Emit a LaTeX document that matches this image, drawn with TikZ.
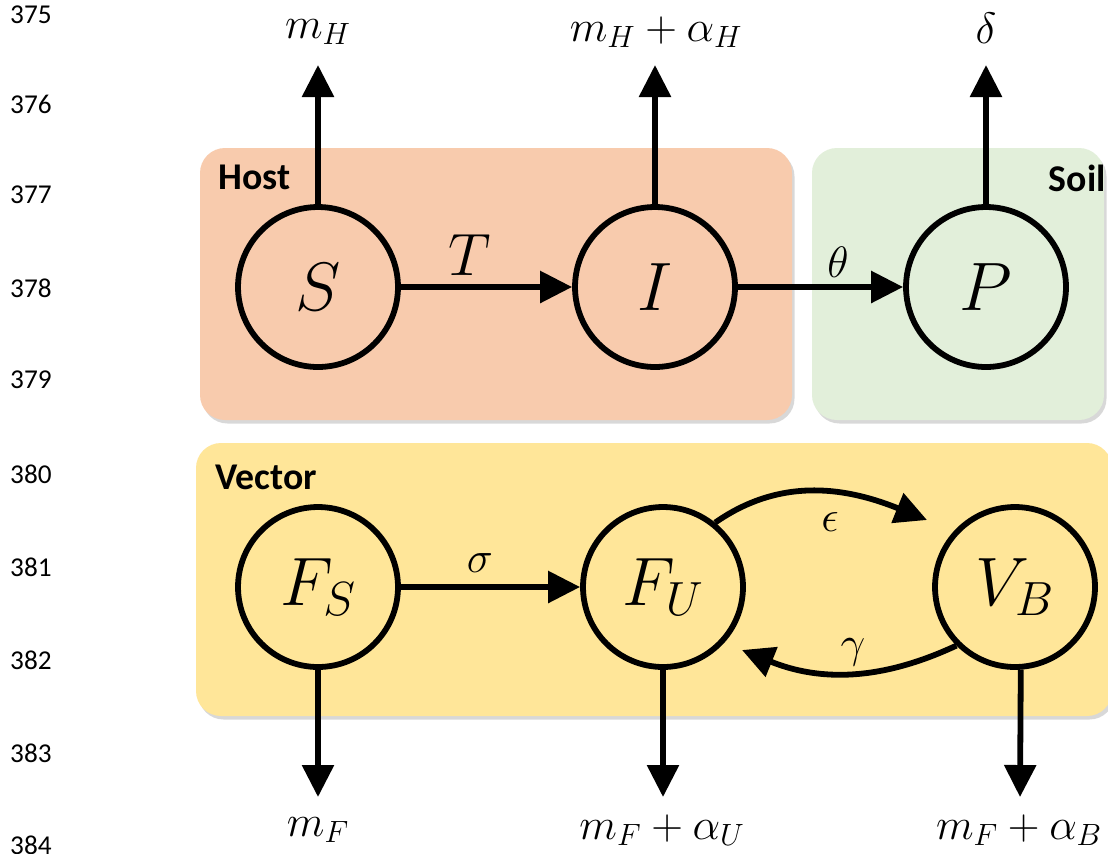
\RequirePackage{fix-cm}
\documentclass[tikz,border=0pt]{standalone}
\usepackage{fontspec}
\newfontfamily\carlito{Carlito}
\usetikzlibrary{arrows.meta,shadows}
\definecolor{hostc}{HTML}{F8CBAD}
\definecolor{soilc}{HTML}{E2EFDA}
\definecolor{vecc}{HTML}{FFE699}
\begin{document}
\begin{tikzpicture}[x=0.02cm,y=-0.02cm,
  comp/.style={circle,draw,line width=3.3pt,minimum size=3.2cm,inner sep=0pt,font=\fontsize{39}{40}\selectfont},
  arr/.style={line width=3.3pt,-{Triangle[length=0.64cm,width=0.62cm]}},
  lbl/.style={font=\fontsize{25}{27}\selectfont,inner sep=0pt},
  grp/.style={font=\carlito\bfseries\fontsize{21.5}{22}\selectfont,inner sep=0pt},
  lnum/.style={font=\carlito\fontsize{15.5}{16}\selectfont,anchor=east,inner sep=0pt},
  box/.style={rounded corners=0.5cm,drop shadow={opacity=0.3,shadow xshift=0.05cm,shadow yshift=-0.07cm}}
]
\useasboundingbox (0,0) rectangle (1108,853);
\fill[white] (0,0) rectangle (1108,853);
% line numbers
\foreach \n/\yy in {375/15,376/104,377/195,378/288,379/380,380/474,381/567,382/660,383/753,384/845}
  \node[lnum] (ln\n) at (52,\yy) {\n};
% group boxes
\path[box,fill=hostc] (200,148) rectangle (792,420);
\path[box,fill=soilc] (812,148) rectangle (1104,420);
\path[box,fill=vecc] (196,443) rectangle (1112,716);
\node[grp,anchor=west] (hostlbl) at (218,177) {Host};
\node[grp,anchor=east] (soillbl) at (1106,178) {Soil};
\node[grp,anchor=west] (veclbl) at (215,477) {Vector};
% compartments
\node[comp] (S) at (318,287) {$S$};
\node[comp] (I) at (655,287) {$I$};
\node[comp] (P) at (986,287) {$P$};
\node[comp] (FS) at (318,587) {$F_S$};
\node[comp] (FU) at (663,587) {$F_U$};
\node[comp] (VB) at (1015,587) {$V_B$};
% transitions
\draw[arr] (S) -- (I);
\node[lbl,font=\fontsize{34}{36}\selectfont] (lT) at (470,255) {$T$};
\draw[arr] (I) -- (P);
\node[lbl] (lth) at (838,262) {$\theta$};
\draw[arr] (FS) -- (FU);
\node[lbl] (lsig) at (480,563) {$\sigma$};
\coordinate (etip) at (927,520);
\coordinate (gtip) at (742,650);
\draw[arr] (FU.51) to[out=35,in=158] (etip);
\node[lbl] (leps) at (830,522) {$\epsilon$};
\draw[arr] (VB.225) to[out=205,in=-22] (gtip);
\node[lbl] (lgam) at (853,652) {$\gamma$};
% outflows up
\coordinate (tS) at (318,65);
\coordinate (tI) at (655,65);
\coordinate (tP) at (986,65);
\draw[arr] (S) -- (tS);
\draw[arr] (I) -- (tI);
\draw[arr] (P) -- (tP);
\node[lbl] (lmH) at (318,32) {$m_H$};
\node[lbl] (lmHa) at (656,32) {$m_H+\alpha_H$};
\node[lbl] (ldel) at (986,28) {$\delta$};
% outflows down
\coordinate (bFS) at (318,797);
\coordinate (bFU) at (663,797);
\coordinate (bVB) at (1020,797);
\draw[arr] (FS) -- (bFS);
\draw[arr] (FU) -- (bFU);
\draw[arr] (VB.-86) -- (bVB);
\node[lbl] (lmF) at (318,830) {$m_F$};
\node[lbl] (lmFU) at (662,830) {$m_F+\alpha_U$};
\node[lbl] (lmFB) at (1019,830) {$m_F+\alpha_B$};
\end{tikzpicture}
\end{document}
